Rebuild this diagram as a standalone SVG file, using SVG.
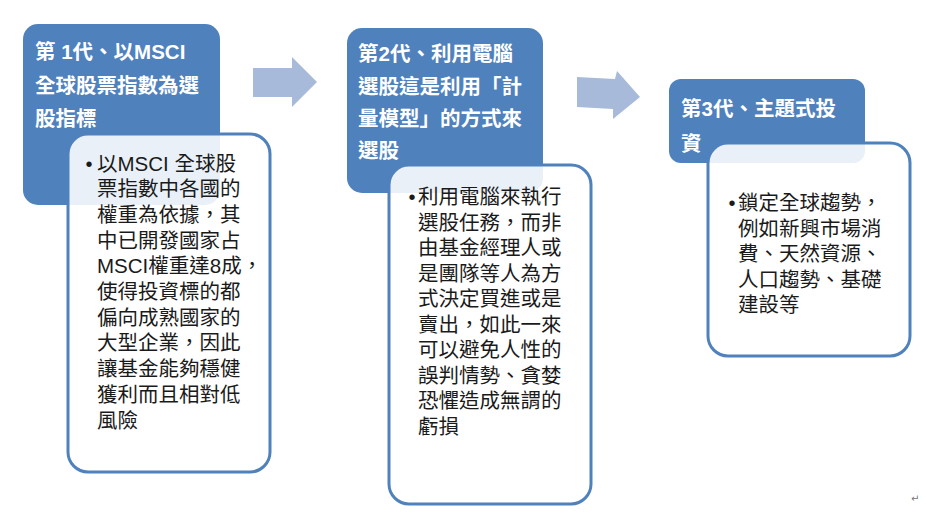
<svg xmlns="http://www.w3.org/2000/svg" width="926" height="521" viewBox="0 0 926 521">
<style>
.bg{fill:#ffffff}
.head{fill:#4F81BD}
.card{fill:#ffffff;fill-opacity:0.88;stroke:#4F81BD;stroke-width:3}
.arrow{fill:#A8BAD9}
.title{font-family:"Liberation Sans","Noto Sans CJK TC",sans-serif;font-weight:bold;font-size:20.5px;fill:#ffffff}
.body{font-family:"Liberation Sans","Noto Sans CJK TC",sans-serif;font-size:20.5px;fill:#1a1a1a}
.bullet{font-family:"Liberation Sans",sans-serif;font-size:20px;fill:#1a1a1a;text-anchor:middle}
.mark{font-family:"DejaVu Sans",sans-serif;font-size:10px;fill:#777777}
</style>
<rect class="bg" x="0" y="0" width="926" height="521"/>
<g id="connectors">
<polygon class="arrow" points="253,68 292,68 292,57 317,82 292,107 292,97 253,97"/>
<polygon class="arrow" points="577,77 615,79 617,71 640,97 613,119 613,109 577,107"/>
</g>
<g id="node1">
<rect class="head" x="23" y="24" width="197" height="181" rx="15"/>
<text class="title"><tspan x="35" y="59">第 1代、以MSCI</tspan><tspan x="35" y="92.5">全球股票指數為選</tspan><tspan x="35" y="126">股指標</tspan></text>
<rect class="card" x="68" y="134" width="202" height="338" rx="20"/>
<text class="bullet" x="89" y="170.5">•</text>
<text class="body"><tspan x="97" y="170.5">以MSCI 全球股</tspan><tspan x="97" y="196.2">票指數中各國的</tspan><tspan x="97" y="221.9">權重為依據，其</tspan><tspan x="97" y="247.6">中已開發國家占</tspan><tspan x="97" y="273.3">MSCI權重達8成，</tspan><tspan x="97" y="299">使得投資標的都</tspan><tspan x="97" y="324.7">偏向成熟國家的</tspan><tspan x="97" y="350.4">大型企業，因此</tspan><tspan x="97" y="376.1">讓基金能夠穩健</tspan><tspan x="97" y="401.8">獲利而且相對低</tspan><tspan x="97" y="427.5">風險</tspan></text>
</g>
<g id="node2">
<rect class="head" x="347" y="28" width="196" height="165" rx="15"/>
<text class="title"><tspan x="358" y="60.5">第2代、利用電腦</tspan><tspan x="358" y="93.5">選股這是利用「計</tspan><tspan x="358" y="126">量模型」的方式來</tspan><tspan x="358" y="158">選股</tspan></text>
<rect class="card" x="389" y="165" width="202" height="339" rx="20"/>
<text class="bullet" x="412" y="204">•</text>
<text class="body"><tspan x="418" y="204">利用電腦來執行</tspan><tspan x="418" y="229.5">選股任務，而非</tspan><tspan x="418" y="255">由基金經理人或</tspan><tspan x="418" y="280.5">是團隊等人為方</tspan><tspan x="418" y="306">式決定買進或是</tspan><tspan x="418" y="331.5">賣出，如此一來</tspan><tspan x="418" y="357">可以避免人性的</tspan><tspan x="418" y="382.5">誤判情勢、貪婪</tspan><tspan x="418" y="408">恐懼造成無謂的</tspan><tspan x="418" y="433.5">虧損</tspan></text>
</g>
<g id="node3">
<rect class="head" x="669" y="79" width="196" height="84" rx="12"/>
<text class="title"><tspan x="681" y="116">第3代、主題式投</tspan><tspan x="681" y="151">資</tspan></text>
<rect class="card" x="708" y="143" width="202" height="213" rx="20"/>
<text class="bullet" x="732" y="210">•</text>
<text class="body"><tspan x="738" y="210">鎖定全球趨勢，</tspan><tspan x="738" y="235.5">例如新興市場消</tspan><tspan x="738" y="261">費、天然資源、</tspan><tspan x="738" y="286.5">人口趨勢、基礎</tspan><tspan x="738" y="312">建設等</tspan></text>
</g>
<text class="mark" x="911" y="502">↵</text>
</svg>
